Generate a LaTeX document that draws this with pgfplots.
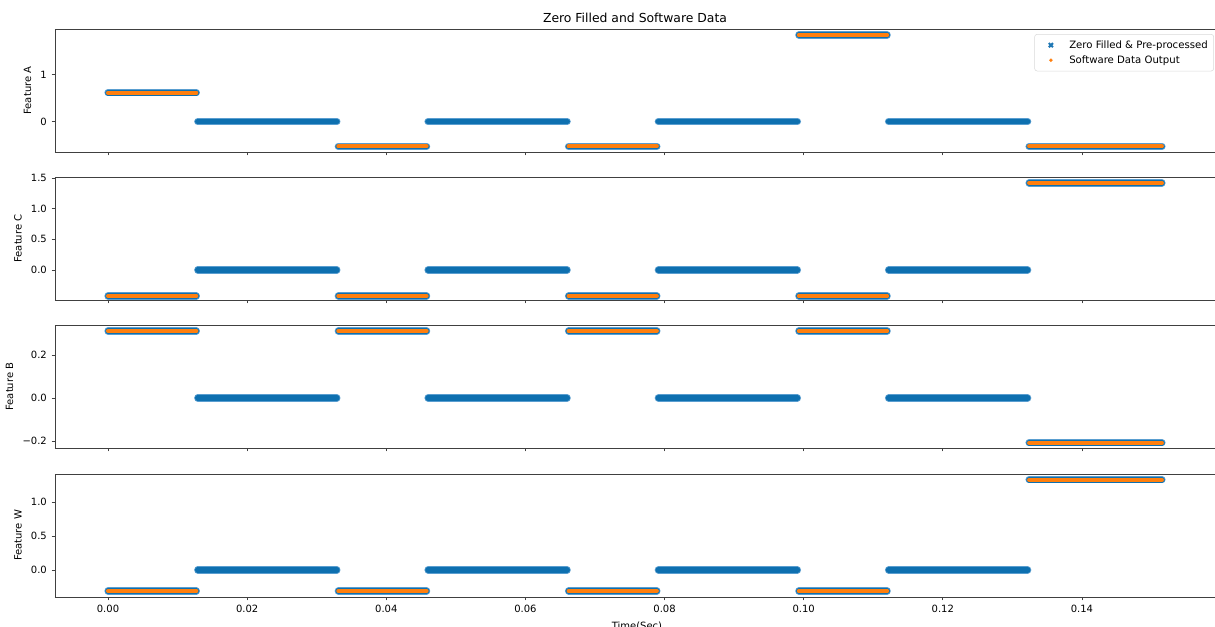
\documentclass[border=0pt]{standalone}
\usepackage{fontspec}
\setmainfont{DejaVu Sans}
\usepackage{pgfplots}
\usepackage{pgfplotstable}
\pgfplotsset{compat=1.18}
\definecolor{tabblue}{HTML}{1F77B4}
\definecolor{bandblue}{HTML}{0E70B0}
\definecolor{edgeblue}{HTML}{5A9ED0}
\definecolor{taborange}{HTML}{FF7F0E}

% Feature A
\pgfplotstableread[row sep=\\]{
x y\\
0 0.617\\ 0.0127 0.617\\ nan nan\\
0.0129 0\\ 0.0329 0\\ nan nan\\
0.0331 -0.532\\ 0.0458 -0.532\\ nan nan\\
0.0460 0\\ 0.0660 0\\ nan nan\\
0.0662 -0.532\\ 0.0789 -0.532\\ nan nan\\
0.0791 0\\ 0.0991 0\\ nan nan\\
0.0993 1.851\\ 0.1120 1.851\\ nan nan\\
0.1122 0\\ 0.1322 0\\ nan nan\\
0.1324 -0.532\\ 0.1515 -0.532\\
}\blueA
\pgfplotstableread[row sep=\\]{
x y\\
0 0.617\\ 0.0127 0.617\\ nan nan\\
0.0331 -0.532\\ 0.0458 -0.532\\ nan nan\\
0.0662 -0.532\\ 0.0789 -0.532\\ nan nan\\
0.0993 1.851\\ 0.1120 1.851\\ nan nan\\
0.1324 -0.532\\ 0.1515 -0.532\\
}\orangeA
% Feature C
\pgfplotstableread[row sep=\\]{
x y\\
0 -0.424\\ 0.0127 -0.424\\ nan nan\\
0.0129 0\\ 0.0329 0\\ nan nan\\
0.0331 -0.424\\ 0.0458 -0.424\\ nan nan\\
0.0460 0\\ 0.0660 0\\ nan nan\\
0.0662 -0.424\\ 0.0789 -0.424\\ nan nan\\
0.0791 0\\ 0.0991 0\\ nan nan\\
0.0993 -0.424\\ 0.1120 -0.424\\ nan nan\\
0.1122 0\\ 0.1322 0\\ nan nan\\
0.1324 1.419\\ 0.1515 1.419\\
}\blueC
\pgfplotstableread[row sep=\\]{
x y\\
0 -0.424\\ 0.0127 -0.424\\ nan nan\\
0.0331 -0.424\\ 0.0458 -0.424\\ nan nan\\
0.0662 -0.424\\ 0.0789 -0.424\\ nan nan\\
0.0993 -0.424\\ 0.1120 -0.424\\ nan nan\\
0.1324 1.419\\ 0.1515 1.419\\
}\orangeC
% Feature B
\pgfplotstableread[row sep=\\]{
x y\\
0 0.312\\ 0.0127 0.312\\ nan nan\\
0.0129 0\\ 0.0329 0\\ nan nan\\
0.0331 0.312\\ 0.0458 0.312\\ nan nan\\
0.0460 0\\ 0.0660 0\\ nan nan\\
0.0662 0.312\\ 0.0789 0.312\\ nan nan\\
0.0791 0\\ 0.0991 0\\ nan nan\\
0.0993 0.312\\ 0.1120 0.312\\ nan nan\\
0.1122 0\\ 0.1322 0\\ nan nan\\
0.1324 -0.209\\ 0.1515 -0.209\\
}\blueB
\pgfplotstableread[row sep=\\]{
x y\\
0 0.312\\ 0.0127 0.312\\ nan nan\\
0.0331 0.312\\ 0.0458 0.312\\ nan nan\\
0.0662 0.312\\ 0.0789 0.312\\ nan nan\\
0.0993 0.312\\ 0.1120 0.312\\ nan nan\\
0.1324 -0.209\\ 0.1515 -0.209\\
}\orangeB
% Feature W
\pgfplotstableread[row sep=\\]{
x y\\
0 -0.309\\ 0.0127 -0.309\\ nan nan\\
0.0129 0\\ 0.0329 0\\ nan nan\\
0.0331 -0.309\\ 0.0458 -0.309\\ nan nan\\
0.0460 0\\ 0.0660 0\\ nan nan\\
0.0662 -0.309\\ 0.0789 -0.309\\ nan nan\\
0.0791 0\\ 0.0991 0\\ nan nan\\
0.0993 -0.309\\ 0.1120 -0.309\\ nan nan\\
0.1122 0\\ 0.1322 0\\ nan nan\\
0.1324 1.324\\ 0.1515 1.324\\
}\blueW
\pgfplotstableread[row sep=\\]{
x y\\
0 -0.309\\ 0.0127 -0.309\\ nan nan\\
0.0331 -0.309\\ 0.0458 -0.309\\ nan nan\\
0.0662 -0.309\\ 0.0789 -0.309\\ nan nan\\
0.0993 -0.309\\ 0.1120 -0.309\\ nan nan\\
0.1324 1.324\\ 0.1515 1.324\\
}\orangeW

\pgfplotsset{
  feat/.style={
    scale only axis, width=873pt, height=92.25pt,
    xmin=-0.00762, xmax=0.1597,
    axis lines*=left,
    xtick={0,0.02,0.04,0.06,0.08,0.1,0.12,0.14},
    xticklabels={},
    tick align=outside, xtick pos=bottom, ytick pos=left,
    major tick length=2.6pt,
    axis line style={black!75, line width=0.6pt},
    every tick/.style={black!75, line width=0.6pt},
    tick label style={font=\fontsize{7.5}{9}\selectfont},
    label style={font=\fontsize{7.5}{9}\selectfont},
    /pgf/number format/assume math mode=true,
    unbounded coords=jump,
    after end axis/.append code={
      \draw[black!75, line width=0.6pt] (rel axis cs:0,1) -- (rel axis cs:1,1);},
  },
  bl/.style={edgeblue, line width=5.4pt, line cap=round, forget plot},
  bc/.style={bandblue, line width=4.2pt, line cap=round, forget plot},
  og/.style={taborange, line width=3pt, line cap=round, forget plot},
}

\begin{document}
\begin{tikzpicture}

\begin{axis}[feat, at={(41.25pt,-21.75pt)}, anchor=north west,
  ymin=-0.651, ymax=1.979, ytick={0,1}, yticklabels={0,1},
  ylabel={Feature A},
  title={Zero Filled and Software Data},
  every axis title shift=0pt,
  title style={font=\fontsize{9.3}{11}\selectfont, at={(0.5,1)}, anchor=base, yshift=4.8pt, xshift=-1.5pt},
  legend style={at={(0.9957,0.959)}, anchor=north east, draw=black!15, rounded corners=2pt,
    fill=white, font=\fontsize{7.6}{9}\selectfont, row sep=0pt, inner sep=2.5pt},
  legend cell align=left,
  legend image code/.code={\path (-2pt,0pt) (18pt,0pt);
    \draw[#1] plot coordinates {(7pt,0pt)};},
]
\addplot[bl] table {\blueA};
\addplot[bc] table {\blueA};
\addplot[og] table {\orangeA};
\addlegendimage{only marks, mark=x, mark size=2.2pt, line width=1.5pt, color=tabblue}
\addlegendentry{Zero Filled \& Pre-processed}
\addlegendimage{only marks, mark=*, mark size=1.1pt, color=taborange}
\addlegendentry{Software Data Output}
\end{axis}

\begin{axis}[feat, at={(41.25pt,-132.75pt)}, anchor=north west,
  ymin=-0.489, ymax=1.516, ytick={0,0.5,1,1.5}, yticklabels={0.0,0.5,1.0,1.5},
  ylabel={Feature C},
]
\addplot[bl] table {\blueC};
\addplot[bc] table {\blueC};
\addplot[og] table {\orangeC};
\end{axis}

\begin{axis}[feat, at={(41.25pt,-243.75pt)}, anchor=north west,
  ymin=-0.233, ymax=0.340, ytick={-0.2,0,0.2}, yticklabels={−0.2,0.0,0.2},
  ylabel={Feature B},
]
\addplot[bl] table {\blueB};
\addplot[bc] table {\blueB};
\addplot[og] table {\orangeB};
\end{axis}

\begin{axis}[feat, at={(41.25pt,-355.5pt)}, anchor=north west,
  ymin=-0.397, ymax=1.41, ytick={0,0.5,1}, yticklabels={0.0,0.5,1.0},
  xticklabels={0.00,0.02,0.04,0.06,0.08,0.10,0.12,0.14},
  ylabel={Feature W}, xlabel={Time(Sec)},
]
\addplot[bl] table {\blueW};
\addplot[bc] table {\blueW};
\addplot[og] table {\orangeW};
\end{axis}
\pgfresetboundingbox
\useasboundingbox (0,0) rectangle (911.25pt,-469.5pt);
\end{tikzpicture}
\end{document}
